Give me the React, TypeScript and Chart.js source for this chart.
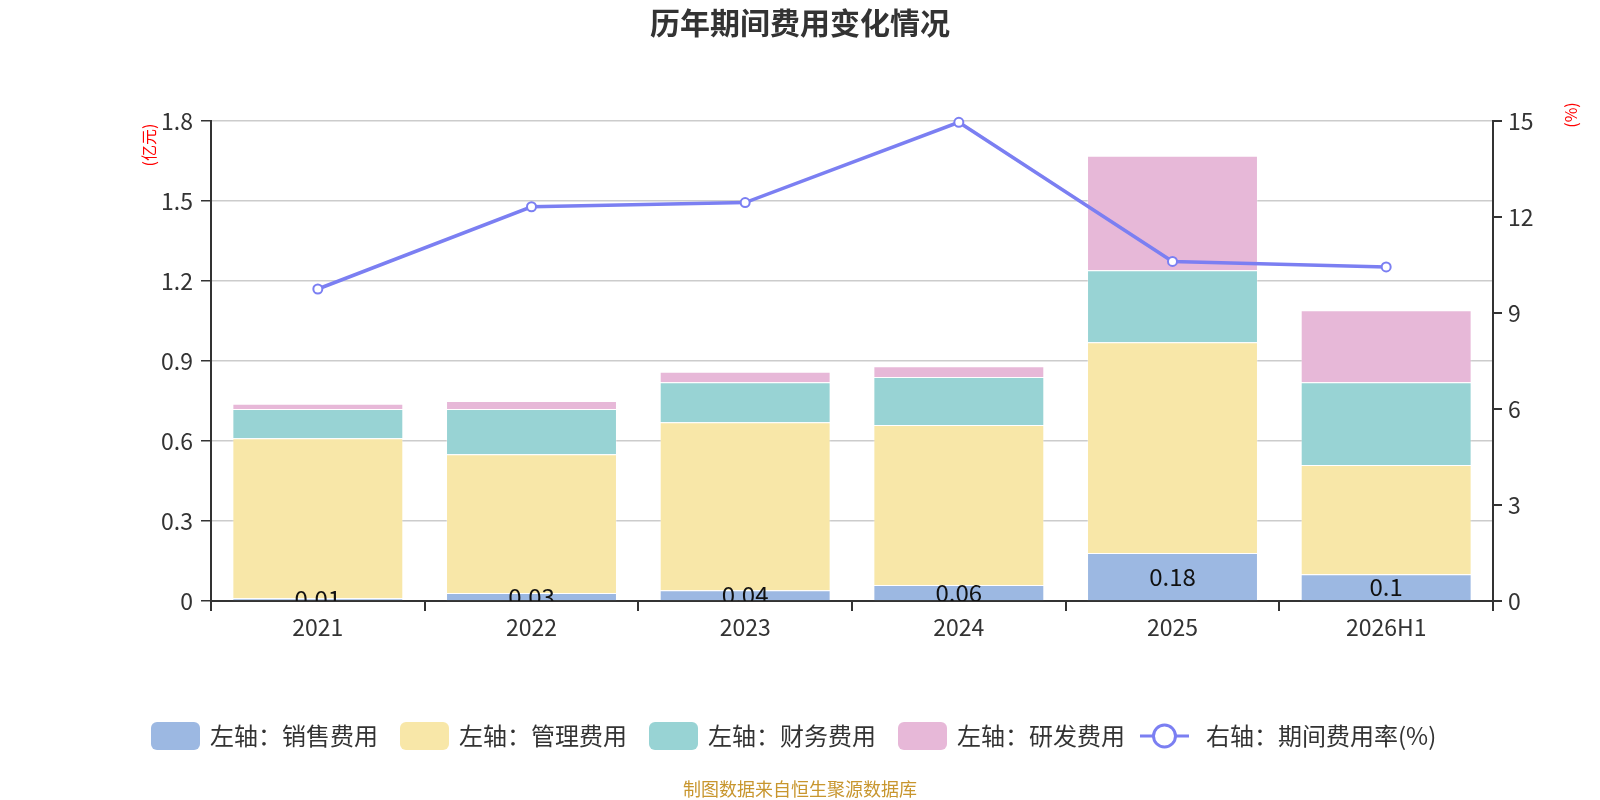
import React, { useEffect, useRef } from "react";
import { Chart, registerables } from "chart.js";

Chart.register(...registerables);

const FONT = '"Noto Sans CJK SC", "Noto Sans", sans-serif';

const years = ["2021", "2022", "2023", "2024", "2025", "2026H1"];
const salesExpense = [0.01, 0.03, 0.04, 0.06, 0.18, 0.1];
const adminExpense = [0.6, 0.52, 0.63, 0.6, 0.79, 0.41];
const financeExpense = [0.11, 0.17, 0.15, 0.18, 0.27, 0.31];
const rdExpense = [0.02, 0.03, 0.04, 0.04, 0.43, 0.27];
const expenseRate = [9.75, 12.32, 12.45, 14.96, 10.61, 10.44];

const leftAxis = { max: 1.8, step: 0.3 };
const rightAxis = { max: 15, step: 3 };

const seriesNames = ["左轴：销售费用", "左轴：管理费用", "左轴：财务费用", "左轴：研发费用", "右轴：期间费用率(%)"];
const colors = ["#9cb8e2", "#f8e7a8", "#98d3d4", "#e7b8d8", "#7b7ff2"];

// title, axis names, legend and source line
const decorPlugin = {
  id: "decor",
  afterDraw(chart: any) {
    const ctx = chart.ctx as CanvasRenderingContext2D;
    ctx.save();

    ctx.fillStyle = "#333";
    ctx.font = `bold 30px ${FONT}`;
    ctx.textAlign = "center";
    ctx.textBaseline = "middle";
    ctx.fillText("历年期间费用变化情况", 800, 23);

    ctx.fillStyle = "#ff0000";
    ctx.font = `16px ${FONT}`;
    ctx.save();
    ctx.translate(149, 145);
    ctx.rotate(-Math.PI / 2);
    ctx.fillText("(亿元)", 0, 0);
    ctx.restore();
    ctx.save();
    ctx.translate(1571, 115);
    ctx.rotate(-Math.PI / 2);
    ctx.fillText("(%)", 0, 0);
    ctx.restore();

    // legend
    ctx.font = `24px ${FONT}`;
    ctx.textAlign = "left";
    let x = 151;
    const y = 736;
    seriesNames.forEach((name, i) => {
      if (i < 4) {
        ctx.fillStyle = colors[i];
        ctx.beginPath();
        ctx.roundRect(x, y - 14, 49, 28, 6);
        ctx.fill();
      } else {
        ctx.strokeStyle = colors[i];
        ctx.lineWidth = 3;
        ctx.beginPath();
        ctx.moveTo(x - 7, y);
        ctx.lineTo(x + 42, y);
        ctx.stroke();
        ctx.beginPath();
        ctx.arc(x + 17.5, y, 11, 0, Math.PI * 2);
        ctx.fillStyle = "#fff";
        ctx.fill();
        ctx.stroke();
      }
      x += 49 + 10;
      ctx.fillStyle = "#333";
      ctx.fillText(name, x, y);
      x += ctx.measureText(name).width + 22;
    });

    ctx.fillStyle = "#c8962e";
    ctx.font = `18px ${FONT}`;
    ctx.textAlign = "center";
    ctx.fillText("制图数据来自恒生聚源数据库", 800, 789);

    ctx.restore();
  },
  afterDatasetsDraw(chart: any) {
    // value labels inside the sales bars
    const ctx = chart.ctx as CanvasRenderingContext2D;
    const area = chart.chartArea;
    const meta = chart.getDatasetMeta(0);
    ctx.save();
    ctx.beginPath();
    ctx.rect(area.left, area.top, area.right - area.left, area.bottom - area.top);
    ctx.clip();
    ctx.fillStyle = "#111";
    ctx.font = `24px ${FONT}`;
    ctx.textAlign = "center";
    ctx.textBaseline = "middle";
    meta.data.forEach((bar: any, i: number) => {
      ctx.fillText(String(salesExpense[i]), bar.x, (bar.y + bar.base) / 2);
    });
    ctx.restore();
  },
};

const App: React.FC = () => {
  const chartRef = useRef<HTMLCanvasElement | null>(null);

  useEffect(() => {
    if (!chartRef.current) return;
    const ctx = chartRef.current.getContext("2d");
    if (!ctx) return;

    const barSet = (label: string, data: number[], color: string) => ({
      type: "bar" as const,
      label,
      data,
      backgroundColor: color,
      borderColor: "rgba(255,255,255,0.3)",
      borderWidth: 1,
      yAxisID: "y",
      stack: "cost",
      order: 1,
      categoryPercentage: 1,
      barPercentage: 0.8,
    });

    const chart = new Chart(ctx, {
      type: "bar",
      data: {
        labels: years,
        datasets: [
          barSet(seriesNames[0], salesExpense, colors[0]),
          barSet(seriesNames[1], adminExpense, colors[1]),
          barSet(seriesNames[2], financeExpense, colors[2]),
          barSet(seriesNames[3], rdExpense, colors[3]),
          {
            type: "line" as const,
            label: seriesNames[4],
            data: expenseRate,
            borderColor: colors[4],
            borderWidth: 3.5,
            pointRadius: 4.5,
            pointBorderWidth: 2,
            pointBackgroundColor: "#fff",
            pointBorderColor: colors[4],
            yAxisID: "y1",
            order: 0,
            tension: 0,
            clip: false,
          } as any,
        ],
      },
      options: {
        responsive: false,
        animation: false,
        devicePixelRatio: 1,
        layout: { padding: { top: 121, bottom: 139, left: 0, right: 0 } },
        plugins: {
          legend: { display: false },
          title: { display: false },
          tooltip: { enabled: false },
        },
        scales: {
          x: {
            stacked: true,
            offset: true,
            grid: {
              offset: true,
              drawOnChartArea: false,
              tickLength: 10,
              tickColor: "#333",
              lineWidth: 2,
            },
            border: { color: "#333", width: 2 },
            ticks: { color: "#333", font: { family: FONT, size: 23 }, padding: 2 },
            afterFit: (s: any) => {
              s.height = 60;
            },
          },
          y: {
            stacked: true,
            position: "left",
            min: 0,
            max: leftAxis.max,
            ticks: {
              stepSize: leftAxis.step,
              color: "#333",
              font: { family: FONT, size: 23 },
              padding: 8,
              callback: (v: any) => String(Math.round(Number(v) * 10) / 10),
            },
            grid: { color: "#cccccc", lineWidth: 1.5, tickColor: "#333", tickLength: 10 },
            border: { color: "#333", width: 2 },
            afterFit: (s: any) => {
              s.width = 211;
            },
          },
          y1: {
            position: "right",
            min: 0,
            max: rightAxis.max,
            ticks: {
              stepSize: rightAxis.step,
              color: "#333",
              font: { family: FONT, size: 23 },
              padding: 6,
            },
            grid: { drawOnChartArea: false, tickColor: "#333", tickLength: 9, lineWidth: 2 },
            border: { color: "#333", width: 2 },
            afterFit: (s: any) => {
              s.width = 107;
            },
          },
        },
      },
      plugins: [decorPlugin],
    });

    return () => {
      chart.destroy();
    };
  }, []);

  return (
    <div style={{ position: "fixed", left: 0, top: 0, width: 1600, height: 800, background: "#fff" }}>
      <canvas ref={chartRef} width={1600} height={800} />
    </div>
  );
};

export default App;
